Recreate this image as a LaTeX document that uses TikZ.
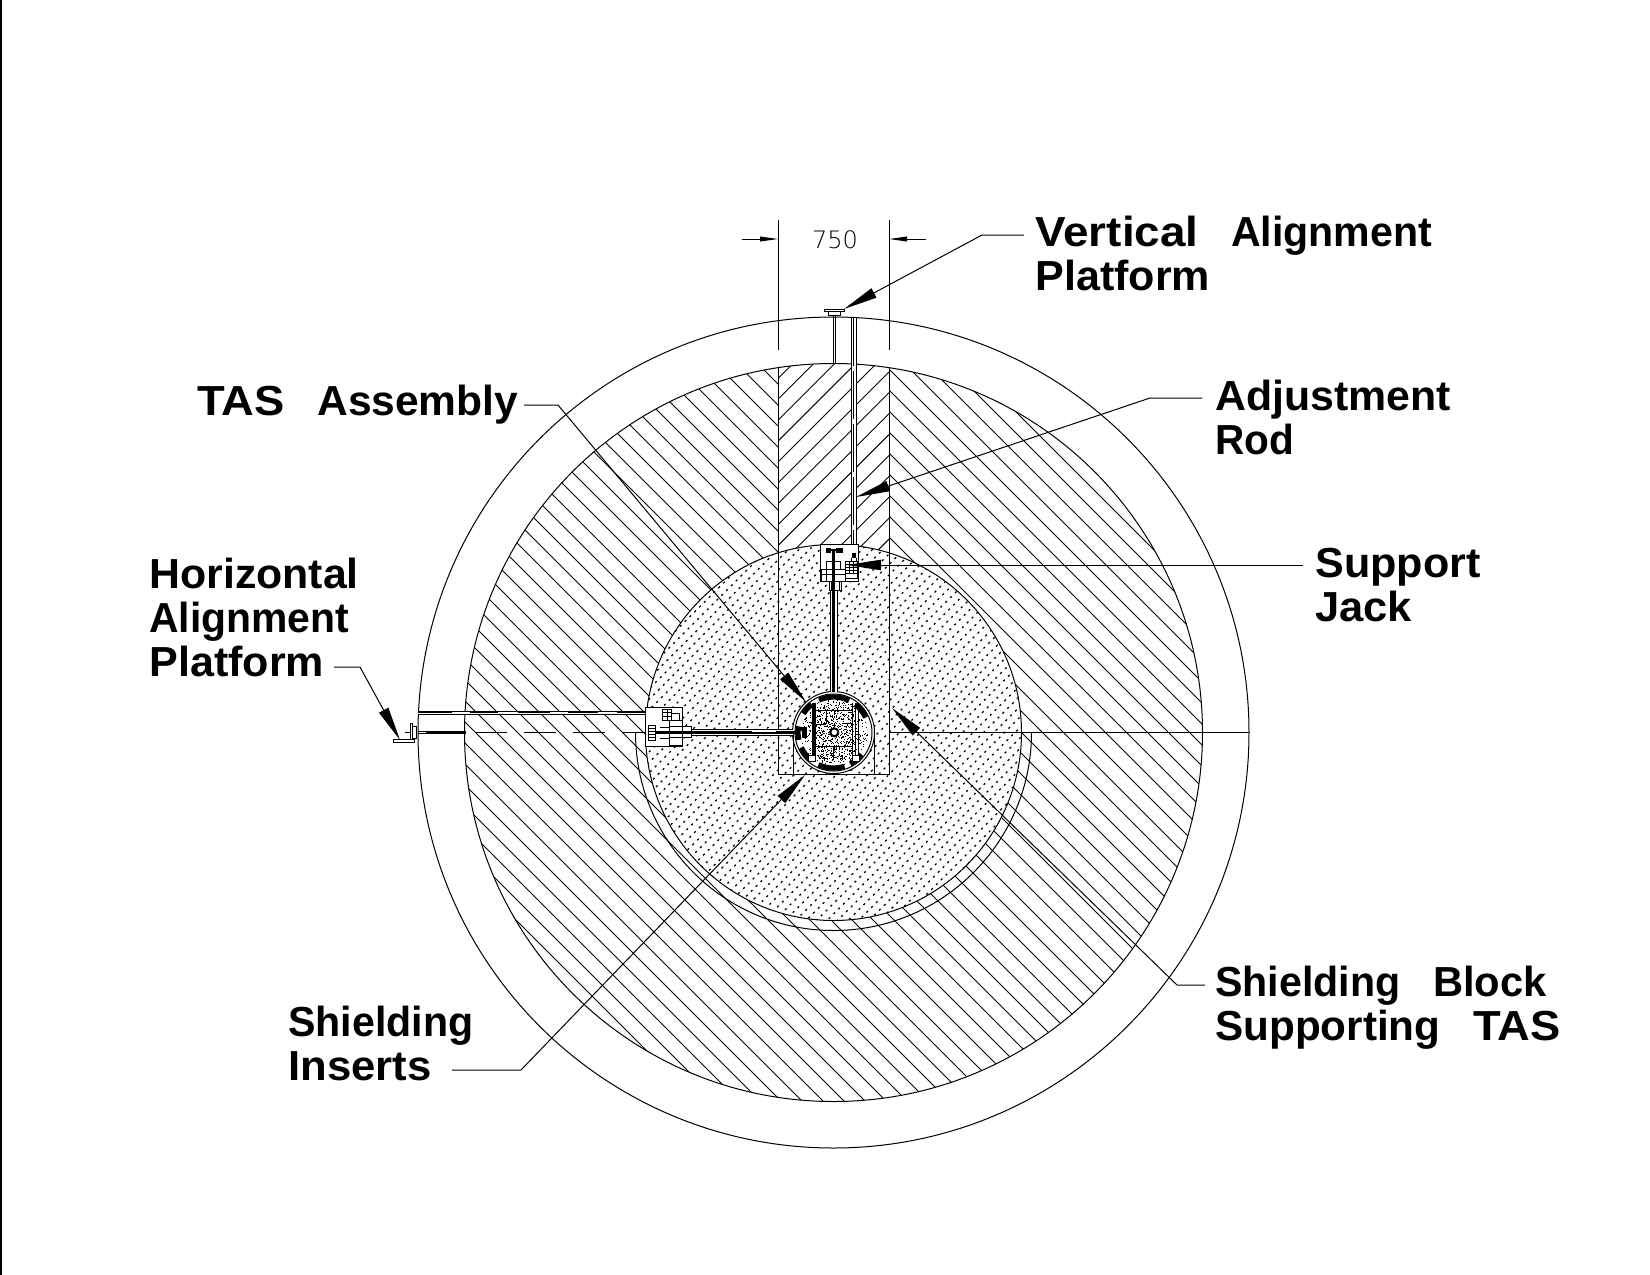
\documentclass[tikz,border=0pt]{standalone}
\usepackage{fontspec}
\usepackage{graphicx}
\setmainfont{Liberation Sans}
\newfontfamily\thinfont{DejaVu Sans ExtraLight}
\usetikzlibrary{arrows.meta,calc}
\newcommand{\WW}[2]{\resizebox{\dimexpr #1pt*526/1000\relax}{\height}{#2}}
\newcommand{\GG}{\hspace{16.3pt}}
\tikzset{
  x=0.5pt,y=-0.5pt,
  thinl/.style={line width=0.5pt,black},
  hatchl/.style={line width=0.45pt,black},
  dotl/.style={line width=0.55pt,black},
  partbox/.style={draw=black,line width=0.5pt,fill=white},
  heavy/.style={line width=1.4pt,black},
  lead/.style={line width=0.5pt,black,-{Triangle[length=17pt,width=5.2pt]}},
  dimarrow/.style={line width=0.5pt,black,-{Triangle[length=9pt,width=2.4pt]}},
  lab/.style={font=\fontsize{21}{22}\selectfont\bfseries,align=left,inner sep=0pt,anchor=base west},
  ringarc/.style={line width=2.6pt,black},
  speck/.style={black}
}
\newcommand{\Rarc}[2]{\draw[ringarc] ($(cc)+(#1:35.5)$) arc[start angle=#1,end angle=#2,radius=35.5];}
\begin{document}
\begin{tikzpicture}
\useasboundingbox (0,0) rectangle (1650,1275);
\coordinate (cc) at (833.5,732.5);
% page edge
\draw[line width=0.8pt] (0.8,0) -- (0.8,1275);
% main hatching
\begin{scope}
  \clip (cc) circle[radius=369];
  \foreach \k in {-16,...,54}{
    \pgfmathsetmacro\cv{-499+21*\k}
    \draw[hatchl] (400,{400+\cv}) -- (1300,{1300+\cv});
  }
  \fill[white] (778,300) rectangle (889,774);
  \begin{scope}
    \clip (778,300) rectangle (889,774);
    \foreach \k in {-3,...,14}{
      \pgfmathsetmacro\sv{1177.3+20.9*\k}
      \draw[hatchl] (778,{\sv-778}) -- (889,{\sv-889});
    }
  \end{scope}
\end{scope}
% inner plug
\fill[white] (cc) circle[radius=188];
\begin{scope}
  \clip (cc) circle[radius=188];
  \foreach \k in {0,...,52}{
    \pgfmathsetmacro\sv{1296+10.5*\k}
    \pgfmathsetmacro\ph{mod(\k*1.3,3.4)}
    \draw[dotl,dash pattern=on 1.1pt off 2.3pt,dash phase=\ph pt] (600,{\sv-600}) -- (1100,{\sv-1100});
  }
\end{scope}
% circles
\draw[thinl] (cc) circle[radius=415.5];
\draw[thinl] (cc) circle[radius=369];
\draw[thinl] (cc) circle[radius=188];
\draw[thinl] (1031.5,732.5) arc[start angle=0,end angle=180,radius=198];
% slot and dimension lines
\draw[thinl] (778,367.7) -- (778,774) -- (889,774) -- (889,367.7);
\coordinate (dl) at (778,220);
\coordinate (dr) at (889,220);
\draw[thinl] (dl) -- (778,350);
\draw[thinl] (dr) -- (889,350);
\coordinate (dla) at (742,239);
\coordinate (dra) at (926,239);
\draw[dimarrow] (dla) -- (778,239);
\draw[dimarrow] (dra) -- (889,239);
\node[inner sep=0pt,font=\thinfont\fontsize{12}{14}\selectfont] (dimv) at (835,239.5) {750};
% centre lines
\draw[thinl] (889,732.5) -- (1249,732.5);
\draw[thinl] (630,732.5) -- (647,732.5);
\draw[thinl] (405,732.5) -- (410,732.5);
\foreach \a/\b in {475/507,524/556,573/605,622/647}{
  \draw[thinl] (\a,732.5) -- (\b,732.5);
}
% vertical platform and adjustment rod
\filldraw[partbox] (824.3,309) rectangle (844.3,311.7);
\filldraw[partbox] (828.3,311.7) rectangle (840.7,315.7);
\draw[thinl] (833.3,315.7) -- (833.3,363.3);
\draw[thinl] (835.9,315.7) -- (835.9,363.3);
\fill[white] (851,318) rectangle (856,553);
\draw[thinl] (851,318) -- (851,553);
\draw[thinl] (856,318) -- (856,553);
\draw[thinl,dash pattern=on 24pt off 2.5pt] (853.4,318) -- (853.4,553);
% horizontal platform rods
\fill[white] (418,711.5) rectangle (647,714.2);
\draw[thinl] (418,711.5) -- (647,711.5);
\draw[thinl] (418,714.2) -- (647,714.2);
\foreach \a/\b in {418/452,470/498,518/550,568/598,617/647}{
  \draw[line width=0.8pt] (\a,712.4) -- (\b,712.4);
}
\draw[thinl] (418,731) -- (465.7,731);
\draw[thinl] (418,733.3) -- (465.7,733.3);
\draw[line width=0.6pt] (426,732.2) -- (465.7,732.2);
\filldraw[partbox] (412.7,726.7) rectangle (416.7,738.3);
\filldraw[partbox] (410,723.3) rectangle (412.7,739.5);
\filldraw[partbox] (393.3,739.3) rectangle (414.7,742.3);
% TAS
\fill[white] (cc) circle[radius=41];
\draw[thinl] (793,732.5) -- (793,774);
\draw[thinl] (874,732.5) -- (874,774);
\draw[thinl] (cc) circle[radius=41];
\draw[thinl] (cc) circle[radius=38.5];
\pgfmathsetseed{11}
\foreach \i in {1,...,520}{
  \pgfmathsetmacro\ang{rnd*360}
  \pgfmathsetmacro\rr{sqrt(rnd)*34}
  \fill[speck] ($(cc)+(\ang:\rr)$) rectangle ++(1,1);
}
\foreach \i in {1,...,380}{
  \pgfmathsetmacro\px{816+rnd*38}
  \pgfmathsetmacro\py{704+rnd*56}
  \fill[speck] (\px,\py) rectangle ++(1,1);
}
\Rarc{246}{296}\Rarc{212}{232}\Rarc{308}{335}\Rarc{38}{62}\Rarc{72}{115}\Rarc{128}{155}\Rarc{168}{190}
\fill[black] (811.7,703) rectangle (815.7,760);
\draw[thinl] (855,703) -- (855,760);
\draw[thinl] (858.3,703) -- (858.3,760);
\draw[thinl] (852,703) -- (852,760);
\filldraw[partbox] (808,755) rectangle (815.7,761);
\filldraw[partbox] (852,755) rectangle (859,761);
\draw[thinl] (816,710) -- (852,710);
\draw[thinl] (816,724) -- (826,724);
\draw[thinl] (842,723) -- (852,723);
\draw[thinl] (816,746) -- (852,746);
\draw[thinl] (833,746) -- (833,760);
\draw[thinl] (826,710) -- (826,724);
\draw[line width=1pt,fill=white] (834.3,732.3) circle[radius=4];
\fill[black] (797,727) rectangle (806.7,731);
\fill[black] (802,731) rectangle (806.7,738.3);
% rods into TAS
\fill[white] (830.3,590) rectangle (837.3,692);
\draw[thinl] (830.5,590) -- (830.5,692);
\draw[thinl] (837,590) -- (837,692);
\draw[line width=1.2pt] (833.3,590) -- (833.3,692);
\fill[white] (692,729) rectangle (793,735.7);
\draw[thinl] (692,729) -- (793,729);
\draw[thinl] (692,735.7) -- (793,735.7);
\draw[heavy] (692,732.8) -- (752,732.8);
\draw[line width=0.9pt] (752,733) -- (776,733);
\draw[heavy] (776,732.8) -- (797,732.8);
% vertical jack
\filldraw[partbox] (820.7,544.3) rectangle (858.3,581);
\filldraw[partbox] (826.7,561.7) rectangle (840,569);
\filldraw[partbox] (821.7,569) rectangle (845.7,581);
\draw[thinl] (826,569) -- (826,581);
\draw[thinl] (821.7,574) -- (845.7,574);
\filldraw[partbox] (845.7,561.7) rectangle (857.3,578);
\foreach \yy in {564,567,570,573}{\draw[thinl] (845.7,\yy) -- (857.3,\yy);}
\foreach \xx in {849,853}{\draw[thinl] (\xx,561.7) -- (\xx,573);}
\filldraw[partbox] (829,581) rectangle (841.7,590);
\draw[thinl] (831,581) -- (831,590);
\draw[thinl] (839.5,581) -- (839.5,590);
\fill[black] (825.7,547.7) rectangle (831,553);
\fill[black] (836,547.7) rectangle (842.7,553);
\draw[line width=0.9pt] (825.7,550) -- (842.7,550);
\draw[line width=1.5pt] (833.5,550) -- (833.5,590);
\fill[black] (851.7,553) rectangle (855.5,558);
\draw[thinl] (851,558) -- (851,561.7);
\draw[thinl] (856,558) -- (856,561.7);
% horizontal jack
\filldraw[partbox] (645.7,707.3) rectangle (682.7,746);
\filldraw[partbox] (662.3,709) rectangle (671.7,720);
\draw[thinl] (662.3,712.5) -- (671.7,712.5);
\draw[thinl] (662.3,716) -- (671.7,716);
\draw[thinl] (667,709) -- (667,720);
\filldraw[partbox] (671.7,713) rectangle (679,720.7);
\filldraw[partbox] (669.3,720.7) rectangle (682.3,745);
\draw[thinl] (669.3,726.7) -- (682.3,726.7);
\draw[thinl] (669.3,737.7) -- (682.3,737.7);
\filldraw[partbox] (682.3,726.7) rectangle (691.7,737.7);
\filldraw[partbox] (648.3,725) rectangle (655,740.7);
\foreach \yy in {728,731,734,737}{\draw[thinl] (648.3,\yy) -- (655,\yy);}
\draw[line width=1.5pt] (655,732.8) -- (691.7,732.8);
\draw[thinl] (660,727) -- (669.3,727);
\draw[thinl] (660,738) -- (669.3,738);
% labels
\node[lab] (vap) at (1035,290.7) {\WW{155}{Vertical}\GG\WW{191}{Alignment}\\\WW{166}{Platform}};
\node[lab] (tas) at (197,415.7) {\WW{83}{TAS}\GG\WW{191}{Assembly}};
\node[lab] (adj) at (1215,454.6) {\WW{224}{Adjustment}\\\WW{75}{Rod}};
\node[lab] (sup) at (1315,621) {\WW{157}{Support}\\\WW{92}{Jack}};
\node[lab] (hap) at (149,676.6) {\WW{199}{Horizontal}\\\WW{190}{Alignment}\\\WW{166}{Platform}};
\node[lab] (ins) at (288,1080) {\WW{176}{Shielding}\\\WW{136}{Inserts}};
\node[lab] (blk) at (1215,1040) {\WW{176}{Shielding}\GG\WW{108}{Block}\\\WW{214}{Supporting}\GG\WW{83}{TAS}};
% leaders
\coordinate (tvap) at (844,309);
\coordinate (tadj) at (856,497);
\coordinate (tsup) at (847,565);
\coordinate (ttas) at (806,702);
\coordinate (thap) at (400,740);
\coordinate (tins) at (805,775);
\coordinate (tblk) at (892,708);
\draw[lead] (1024,235) -- (982,235) -- (tvap);
\draw[lead] (1202,398) -- (1150,398) -- (tadj);
\draw[lead] (1303,565) -- (tsup);
\draw[lead] (524,405) -- (558,405) -- (ttas);
\draw[lead] (334,667) -- (360,667) -- (thap);
\draw[lead] (452,1070) -- (521,1070) -- (tins);
\draw[lead] (1205,985) -- (1177,985) -- (tblk);
\end{tikzpicture}
\end{document}
